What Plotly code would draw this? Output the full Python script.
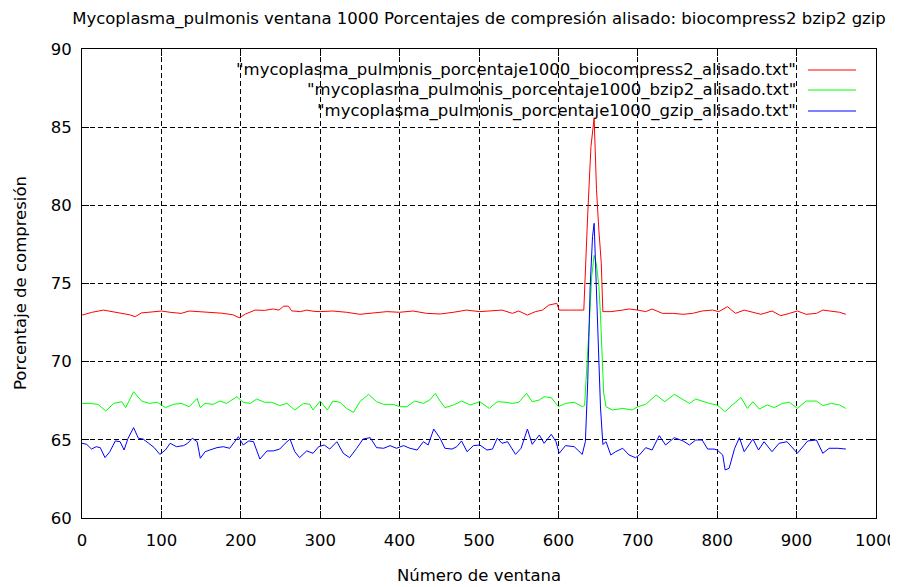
import plotly.graph_objects as go

# ---- data ----
series_names = [
    '"mycoplasma_pulmonis_porcentaje1000_biocompress2_alisado.txt"',
    '"mycoplasma_pulmonis_porcentaje1000_bzip2_alisado.txt"',
    '"mycoplasma_pulmonis_porcentaje1000_gzip_alisado.txt"',
]
series_colors = ["#ff0000", "#00ff00", "#0000ff"]

bio_x = [0, 12, 27, 40, 50, 60, 67, 75, 84, 100, 112, 125, 135, 150, 162, 176, 190, 198, 206, 218,
         230, 241, 248, 254, 260, 264, 275, 283, 292, 300, 316, 333, 350, 367, 384, 400, 417, 434, 451, 468,
         484, 501, 517, 529, 542, 550, 561, 571, 580, 588, 598, 601, 614, 626, 632, 637, 641, 645, 648, 651,
         654, 656, 666, 681, 689, 700, 710, 718, 731, 744, 757, 769, 781, 794, 802, 813, 823, 834, 844, 855,
         869, 880, 891, 901, 912, 925, 933, 944, 954, 962]
bio_y = [72.98, 73.15, 73.30, 73.20, 73.09, 73.00, 72.88, 73.12, 73.16, 73.24, 73.15, 73.09, 73.24, 73.20, 73.16, 73.10, 73.00, 72.81, 73.05, 73.30,
         73.28, 73.37, 73.30, 73.55, 73.55, 73.25, 73.20, 73.30, 73.22, 73.20, 73.24, 73.16, 73.03, 73.12, 73.20, 73.16, 73.24, 73.09, 73.05, 73.16,
         73.30, 73.20, 73.24, 73.30, 73.09, 73.24, 72.98, 73.20, 73.30, 73.62, 73.73, 73.30, 73.30, 73.30, 73.30, 79.50, 83.75, 85.60, 81.00, 78.40,
         76.30, 73.20, 73.20, 73.30, 73.37, 73.30, 73.20, 73.37, 73.09, 73.09, 73.03, 73.09, 73.24, 73.30, 73.20, 73.52, 73.09, 73.30, 73.16, 73.03,
         73.24, 72.94, 73.09, 73.24, 73.03, 73.09, 73.30, 73.24, 73.16, 73.03]

bzip_x = [0, 10, 20, 30, 40, 50, 55, 65, 75, 85, 95, 105, 115, 125, 135, 145, 149, 155, 165, 174,
          182, 195, 203, 212, 220, 230, 239, 249, 258, 268, 279, 287, 291, 300, 309, 316, 325, 333, 342, 350,
          361, 371, 380, 392, 400, 409, 419, 430, 438, 445, 451, 457, 468, 478, 489, 501, 513, 523, 534, 542,
          550, 560, 567, 576, 582, 591, 600, 609, 620, 630, 633, 636, 639, 642, 645, 648, 651, 653, 655, 657,
          660, 668, 681, 693, 700, 710, 723, 734, 746, 757, 765, 773, 781, 790, 800, 810, 819, 830, 838, 845,
          853, 863, 872, 882, 891, 901, 912, 925, 933, 944, 954, 962]
bzip_y = [67.33, 67.33, 67.27, 66.84, 67.33, 67.44, 67.06, 68.08, 67.48, 67.33, 67.40, 67.06, 67.27, 67.33, 67.12, 67.65, 67.06, 67.33, 67.27, 67.48,
          67.33, 67.76, 67.40, 67.33, 67.61, 67.40, 67.40, 67.19, 67.33, 66.91, 67.33, 67.27, 66.91, 67.48, 66.91, 67.48, 67.40, 67.01, 66.76, 67.44,
          67.91, 67.44, 67.27, 67.27, 67.12, 67.12, 67.48, 67.33, 67.55, 67.97, 67.48, 67.06, 67.23, 67.48, 67.23, 67.44, 67.01, 67.44, 67.40, 67.33,
          67.40, 67.97, 67.44, 67.55, 67.76, 67.70, 67.12, 67.33, 67.40, 67.12, 67.20, 69.50, 72.50, 75.50, 76.80, 76.20, 74.80, 73.00, 70.50, 68.00,
          67.12, 66.91, 67.01, 66.91, 67.12, 67.27, 67.87, 67.44, 67.91, 67.55, 67.33, 67.61, 67.48, 67.33, 67.23, 66.80, 67.23, 67.70, 67.01, 67.44,
          66.97, 67.23, 67.06, 67.33, 67.40, 67.01, 67.48, 67.48, 67.19, 67.33, 67.23, 67.01]

gzip_x = [0, 6, 12, 18, 23, 29, 35, 42, 48, 53, 58, 65, 71, 77, 84, 91, 98, 105, 111, 119,
          128, 133, 139, 145, 149, 155, 161, 170, 178, 186, 197, 203, 210, 216, 224, 233, 241, 249, 256, 262,
          268, 274, 283, 291, 298, 305, 312, 321, 329, 337, 346, 354, 363, 371, 380, 388, 396, 405, 413, 422,
          430, 436, 443, 451, 457, 466, 472, 478, 485, 493, 501, 510, 517, 523, 529, 536, 546, 553, 561, 567,
          576, 582, 591, 597, 601, 609, 620, 630, 634, 637, 640, 643, 645, 647, 650, 653, 656, 660, 666, 672,
          681, 689, 697, 702, 710, 718, 727, 735, 746, 757, 765, 773, 781, 788, 796, 800, 807, 810, 815, 822,
          828, 834, 845, 852, 859, 869, 878, 888, 901, 914, 925, 933, 941, 952, 962]
gzip_y = [64.78, 64.71, 64.41, 64.56, 64.50, 63.86, 64.24, 64.93, 64.88, 64.35, 65.10, 65.78, 65.10, 65.05, 64.78, 64.50, 64.07, 64.35, 64.78, 64.56,
          64.63, 64.78, 65.10, 64.88, 63.82, 64.24, 64.35, 64.50, 64.56, 64.46, 65.20, 64.67, 64.93, 64.88, 63.77, 64.29, 64.29, 64.41, 64.78, 65.05,
          64.24, 63.86, 64.29, 64.14, 64.56, 64.67, 64.41, 64.88, 64.14, 63.86, 64.46, 65.05, 65.14, 64.50, 64.46, 64.63, 64.46, 64.63, 64.46, 64.35,
          64.88, 64.67, 65.69, 65.10, 64.46, 64.41, 64.56, 64.93, 64.24, 64.63, 64.67, 64.35, 64.41, 65.10, 64.78, 64.88, 64.07, 64.46, 65.69, 64.71,
          65.31, 64.78, 65.35, 64.88, 64.14, 64.63, 64.56, 64.07, 64.90, 68.80, 74.80, 78.00, 78.85, 76.10, 71.00, 67.10, 64.70, 64.88, 64.03, 64.24,
          64.46, 64.03, 63.86, 64.03, 64.50, 64.35, 65.27, 64.67, 65.14, 64.93, 64.67, 64.99, 64.99, 64.41, 64.41, 64.35, 64.03, 63.07, 63.18, 64.46,
          65.14, 64.24, 65.05, 64.35, 64.88, 64.24, 64.78, 64.88, 64.14, 64.93, 64.99, 64.14, 64.46, 64.46, 64.41]

x_ticks = [0, 100, 200, 300, 400, 500, 600, 700, 800, 900, 1000]
y_ticks = [60, 65, 70, 75, 80, 85, 90]

title_text = "Mycoplasma_pulmonis ventana 1000 Porcentajes de compresión alisado: biocompress2 bzip2 gzip"
x_title = "Número de ventana"
y_title = "Porcentaje de compresión"

FONT = "DejaVu Sans, Arial, sans-serif"
FS = 16.5

OFF = 8  # page body margin in the browser
W, H = 898 - OFF, 587 - OFF
L, T = 82 - OFF, 49 - OFF
R = 22
PW, PH = 794, 469
B = H - T - PH


def px_x(p):
    # screen pixel -> paper coordinate
    return (p - OFF - L) / PW


def px_y(p):
    return (OFF + T + PH - p) / PH


fig = go.Figure()
all_x = [bio_x, bzip_x, gzip_x]
all_y = [bio_y, bzip_y, gzip_y]
for name, color, xs, ys in zip(series_names, series_colors, all_x, all_y):
    fig.add_trace(go.Scatter(x=xs, y=ys, mode="lines", name=name,
                             line=dict(color=color, width=1), showlegend=False))

# legend box blanks the grid (gnuplot style key)
fig.add_shape(type="rect", xref="paper", yref="paper", layer="between",
              x0=px_x(230), x1=1, y0=px_y(122), y1=1,
              line=dict(width=0), fillcolor="white")

# gnuplot-style legend (text right aligned, sample line on the right)
legend_rows = [70, 90, 111]
for name, color, row in zip(series_names, series_colors, legend_rows):
    ypos = px_y(row)
    fig.add_annotation(x=px_x(798), y=ypos, xref="paper", yref="paper", text=name,
                       showarrow=False, xanchor="right", yanchor="middle",
                       font=dict(family=FONT, size=FS, color="black"))
    fig.add_shape(type="line", xref="paper", yref="paper",
                  x0=px_x(808), x1=px_x(856), y0=ypos, y1=ypos,
                  line=dict(color=color, width=1))

# axis titles
fig.add_annotation(x=0.5, y=px_y(575), xref="paper", yref="paper", text=x_title,
                   showarrow=False, xanchor="center", yanchor="middle",
                   font=dict(family=FONT, size=FS, color="black"))
fig.add_annotation(x=px_x(20), y=px_y(283), xref="paper", yref="paper", text=y_title,
                   showarrow=False, xanchor="center", yanchor="middle", textangle=-90,
                   font=dict(family=FONT, size=FS, color="black"))

axis_common = dict(
    showline=True, linecolor="black", linewidth=1, mirror="ticks",
    ticks="inside", ticklen=7, tickcolor="black", tickwidth=1,
    showgrid=True, gridcolor="black", griddash="5px,3px", gridwidth=1,
    zeroline=False, automargin=False,
    tickfont=dict(family=FONT, size=FS, color="black"),
)

fig.update_layout(
    width=W, height=H,
    margin=dict(l=L, r=R, t=T, b=B, autoexpand=False),
    paper_bgcolor="white", plot_bgcolor="white",
    title=dict(text=title_text, x=0.5, xref="paper", xanchor="center",
               y=1 - (18 - OFF) / H, yref="container", yanchor="middle", automargin=False,
               font=dict(family=FONT, size=FS, color="black")),
    xaxis=dict(range=[0, 1000], tickvals=x_ticks, ticktext=[str(v) for v in x_ticks],
               ticklabelstandoff=7, **axis_common),
    yaxis=dict(range=[60, 90], tickvals=y_ticks, ticktext=[str(v) for v in y_ticks],
               ticklabelstandoff=6, **axis_common),
)

fig.write_html("out.html")
